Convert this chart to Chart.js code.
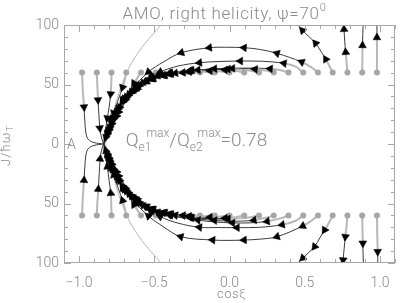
<!DOCTYPE html>
<html>
<head>
<meta charset="utf-8">
<script src="https://cdn.jsdelivr.net/npm/chart.js@4"></script>
<style>html,body{margin:0;padding:0;background:#fff}#c{display:block}</style>
</head>
<body>
<canvas id="c" width="407" height="303"></canvas>
<script>
// AMO flow diagram, right helicity, psi = 70 deg: trajectories in (cos xi, J) plane.

// ── data ────────────────────────────────────────────────────────────────────
const startX    = [-0.98, -0.882, -0.784, -0.686, -0.588, -0.49, -0.392, -0.294, -0.196, -0.098, 0,
                   0.098, 0.196, 0.294, 0.392, 0.49, 0.588, 0.686, 0.784, 0.882, 0.98];
const dotLevels = [60, -60];

const xTickValues = [-1, -0.5, 0, 0.5, 1];
const xTickLabels = ['\u22121.0', '\u22120.5', '0.0', '0.5', '1.0'];
const yTickValues = [-100, -50, 0, 50, 100];
const yTickLabels = ['100', '50', '0', '50', '100'];

const topPaths = [
  [[-0.98,60],[-0.975,45],[-0.967,31],[-0.962,20],[-0.955,10],[-0.94,4],[-0.9,1.2],[-0.836,0]],
  [[-0.882,60],[-0.878,48],[-0.874,37],[-0.868,25],[-0.862,13.4],[-0.85,5],[-0.836,0]],
  [[-0.784,60],[-0.786,51],[-0.79,42],[-0.8,31],[-0.812,21.8],[-0.826,10],[-0.836,0]],
  [[-0.686,60],[-0.698,53],[-0.711,47.5],[-0.74,37],[-0.77,26],[-0.8,14],[-0.822,5.5],[-0.836,0]],
  [[-0.588,60],[-0.61,56],[-0.635,51],[-0.67,44],[-0.71,36],[-0.75,27],[-0.785,17],[-0.812,8],[-0.836,0]],
  [[-0.49,60],[-0.52,57.5],[-0.56,53.5],[-0.6,49.5],[-0.645,44],[-0.69,38],[-0.735,30],[-0.77,21],[-0.8,12],[-0.836,0]],
  [[-0.392,60],[-0.43,59],[-0.48,57],[-0.53,54.5],[-0.58,51],[-0.625,46.5],[-0.67,41.5],[-0.71,35],[-0.75,27],[-0.785,18],[-0.812,9],[-0.836,0]],
  [[-0.294,60],[-0.33,60],[-0.38,59],[-0.44,57.5],[-0.5,55.5],[-0.56,52.5],[-0.61,48.5],[-0.655,43.5],[-0.7,37],[-0.74,29.5],[-0.775,20.5],[-0.805,11],[-0.836,0]],
  [[-0.196,60],[-0.25,60.3],[-0.31,60],[-0.37,59],[-0.43,57.5],[-0.49,55.5],[-0.55,52.5],[-0.6,48.5],[-0.645,44],[-0.69,38],[-0.73,31],[-0.765,23],[-0.795,14],[-0.82,6],[-0.836,0]],
  [[-0.098,60],[-0.15,60.5],[-0.21,61],[-0.27,60.8],[-0.33,60],[-0.39,58.8],[-0.45,57],[-0.51,54.5],[-0.565,51.5],[-0.615,47.5],[-0.66,42.5],[-0.7,37],[-0.74,30],[-0.775,21],[-0.805,12],[-0.836,0]],
  [[0,60],[-0.06,61],[-0.13,61.5],[-0.2,61.5],[-0.27,61],[-0.34,60],[-0.4,58.8],[-0.46,57],[-0.52,54.5],[-0.575,51],[-0.625,47],[-0.67,42],[-0.71,36],[-0.75,28.5],[-0.785,19.5],[-0.812,10],[-0.836,0]],
  [[0.098,60],[0.04,61.5],[-0.03,62.3],[-0.11,62.5],[-0.19,62.3],[-0.26,61.7],[-0.33,60.8],[-0.4,59.5],[-0.46,57.7],[-0.52,55.3],[-0.575,52],[-0.625,48],[-0.67,43],[-0.71,37],[-0.75,29],[-0.785,20],[-0.812,10.5],[-0.836,0]],
  [[0.196,60],[0.14,61.5],[0.07,62.5],[-0.01,63],[-0.09,63],[-0.17,62.6],[-0.25,62],[-0.32,61],[-0.39,59.7],[-0.45,58],[-0.51,55.8],[-0.565,52.7],[-0.615,48.7],[-0.66,44],[-0.7,38],[-0.74,30.5],[-0.775,21.5],[-0.805,11.5],[-0.836,0]],
  [[0.294,60],[0.25,61.5],[0.17,62.8],[0.08,63.5],[-0.01,63.6],[-0.1,63.2],[-0.19,62.4],[-0.28,61.2],[-0.36,59.5],[-0.44,57.5],[-0.51,54.8],[-0.57,51.4],[-0.625,47],[-0.67,41.8],[-0.71,35.6],[-0.75,28],[-0.785,19],[-0.812,9.5],[-0.836,0]],
  [[0.392,60],[0.34,62],[0.27,63.2],[0.15,63.8],[0.02,63.5],[-0.1,63],[-0.21,62.2],[-0.342,60.9],[-0.454,58],[-0.539,53.8],[-0.612,47],[-0.678,37.8],[-0.737,26.9],[-0.789,14.3],[-0.836,0]],
  [[0.49,60],[0.44,65],[0.362,67.8],[0.22,69.5],[0.072,69.7],[-0.07,69.3],[-0.2,68.3],[-0.342,65.5],[-0.461,60.5],[-0.553,53.8],[-0.625,45.4],[-0.691,35.3],[-0.75,23.5],[-0.796,11.8],[-0.836,0]],
  [[0.588,60],[0.55,64],[0.48,68.9],[0.316,76.2],[0.2,79.5],[0.097,80.9],[-0.02,81.3],[-0.134,80.9],[-0.32,76.7],[-0.44,68.9],[-0.539,60.5],[-0.618,50.4],[-0.684,39.5],[-0.737,28.6],[-0.783,16.8],[-0.816,6.7],[-0.836,0]],
  [[0.686,60],[0.662,66],[0.64,71.2],[0.607,78],[0.572,84.6],[0.53,90],[0.485,95.4],[0.455,100],[0.43,104]],
  [[0.784,60],[0.778,69],[0.772,77.1],[0.766,86.5],[0.761,96.4],[0.759,102]],
  [[0.882,60],[0.883,71],[0.884,82.8],[0.886,92],[0.888,102]],
  [[0.98,60],[0.98,75],[0.98,89.5],[0.98,102]]
];
const topArrows = [[2],[2,4],[2,4],[2,4,6],[2,4,6,7],[1,3,5,7,8],[2,4,6,8,10],[3,5,7,9,11],[2,4,6,8,10,12],
  [3,5,7,9,11,13],[2,4,6,8,10,12,14],[2,5,7,9,11,13,15],[3,6,8,10,12,14,16],[2,5,8,10,12,14,16],
  [2,4,6,8,10,12],[2,4,6,8,10,12],[2,3,5,7,8,10,12,14],[2,4,6],[2,4],[2],[2]];

const bottomPaths = [
  [[-0.98,-60],[-0.975,-45],[-0.967,-30.5],[-0.962,-20],[-0.955,-10],[-0.94,-4],[-0.9,-1.2],[-0.836,0]],
  [[-0.882,-60],[-0.878,-49],[-0.872,-38],[-0.866,-25],[-0.86,-12.6],[-0.85,-5],[-0.836,0]],
  [[-0.784,-60],[-0.786,-51],[-0.789,-41.4],[-0.8,-31],[-0.812,-19],[-0.826,-9],[-0.836,0]],
  [[-0.686,-60],[-0.698,-53],[-0.711,-47.5],[-0.74,-37],[-0.77,-26],[-0.8,-14],[-0.822,-5.5],[-0.836,0]],
  [[-0.588,-60],[-0.61,-56],[-0.635,-51],[-0.67,-44],[-0.71,-36],[-0.75,-27],[-0.785,-17],[-0.812,-8],[-0.836,0]],
  [[-0.49,-60],[-0.52,-57.5],[-0.56,-53.5],[-0.6,-49.5],[-0.645,-44],[-0.69,-38],[-0.735,-30],[-0.77,-21],[-0.8,-12],[-0.836,0]],
  [[-0.392,-60],[-0.43,-59],[-0.48,-57],[-0.53,-54.5],[-0.58,-51],[-0.625,-46.5],[-0.67,-41.5],[-0.71,-35],[-0.75,-27],[-0.785,-18],[-0.812,-9],[-0.836,0]],
  [[-0.294,-60],[-0.33,-60],[-0.38,-59],[-0.44,-57.5],[-0.5,-55.5],[-0.56,-52.5],[-0.61,-48.5],[-0.655,-43.5],[-0.7,-37],[-0.74,-29.5],[-0.775,-20.5],[-0.805,-11],[-0.836,0]],
  [[-0.196,-60],[-0.25,-60.3],[-0.31,-60],[-0.37,-59],[-0.43,-57.5],[-0.49,-55.5],[-0.55,-52.5],[-0.6,-48.5],[-0.645,-44],[-0.69,-38],[-0.73,-31],[-0.765,-23],[-0.795,-14],[-0.82,-6],[-0.836,0]],
  [[-0.098,-60],[-0.15,-60.5],[-0.21,-61],[-0.27,-60.8],[-0.33,-60],[-0.39,-58.8],[-0.45,-57],[-0.51,-54.5],[-0.565,-51.5],[-0.615,-47.5],[-0.66,-42.5],[-0.7,-37],[-0.74,-30],[-0.775,-21],[-0.805,-12],[-0.836,0]],
  [[0,-60],[-0.06,-61],[-0.13,-61.5],[-0.2,-61.5],[-0.27,-61],[-0.34,-60],[-0.4,-58.8],[-0.46,-57],[-0.52,-54.5],[-0.575,-51],[-0.625,-47],[-0.67,-42],[-0.71,-36],[-0.75,-28.5],[-0.785,-19.5],[-0.812,-10],[-0.836,0]],
  [[0.098,-60],[0.04,-61.5],[-0.03,-62.3],[-0.11,-62.5],[-0.19,-62.3],[-0.26,-61.7],[-0.33,-60.8],[-0.4,-59.5],[-0.46,-57.7],[-0.52,-55.3],[-0.575,-52],[-0.625,-48],[-0.67,-43],[-0.71,-37],[-0.75,-29],[-0.785,-20],[-0.812,-10.5],[-0.836,0]],
  [[0.196,-60],[0.14,-61.5],[0.07,-62.5],[-0.01,-63],[-0.09,-63],[-0.17,-62.6],[-0.25,-62],[-0.32,-61],[-0.39,-59.7],[-0.45,-58],[-0.51,-55.8],[-0.565,-52.7],[-0.615,-48.7],[-0.66,-44],[-0.7,-38],[-0.74,-30.5],[-0.775,-21.5],[-0.805,-11.5],[-0.836,0]],
  [[0.294,-60],[0.25,-61.8],[0.162,-64],[0.08,-64.8],[-0.01,-64.8],[-0.1,-64.2],[-0.19,-63.2],[-0.28,-61.8],[-0.36,-59.8],[-0.44,-57.6],[-0.51,-54.8],[-0.57,-51.4],[-0.625,-47],[-0.67,-41.8],[-0.71,-35.6],[-0.75,-28],[-0.785,-19],[-0.812,-9.5],[-0.836,0]],
  [[0.392,-60],[0.34,-62.5],[0.25,-65],[0.13,-66.3],[0.02,-66.3],[-0.1,-65.5],[-0.21,-64],[-0.342,-61.5],[-0.454,-58],[-0.539,-53.8],[-0.612,-47],[-0.678,-37.8],[-0.737,-26.9],[-0.789,-14.3],[-0.836,0]],
  [[0.49,-60],[0.44,-64.5],[0.35,-67.8],[0.2,-70],[0.05,-70.3],[-0.07,-70.2],[-0.2,-70],[-0.342,-66.5],[-0.461,-61],[-0.553,-53.8],[-0.625,-45.4],[-0.691,-35.3],[-0.75,-23.5],[-0.796,-11.8],[-0.836,0]],
  [[0.588,-60],[0.55,-64],[0.487,-68.9],[0.316,-77.9],[0.2,-80],[0.097,-80.7],[-0.01,-81],[-0.112,-80.7],[-0.324,-77.9],[-0.44,-69.5],[-0.539,-60.5],[-0.618,-50.4],[-0.684,-39.5],[-0.737,-28.6],[-0.783,-16.8],[-0.816,-6.7],[-0.836,0]],
  [[0.686,-60],[0.662,-66],[0.632,-72.3],[0.6,-79],[0.566,-86.3],[0.528,-91],[0.487,-95.8],[0.455,-100],[0.43,-104]],
  [[0.784,-60],[0.778,-69],[0.77,-77.9],[0.762,-88],[0.755,-97.5],[0.753,-102]],
  [[0.882,-60],[0.884,-72],[0.886,-83.4],[0.888,-93],[0.89,-102]],
  [[0.98,-60],[0.982,-75],[0.985,-90.5],[0.986,-102]]
];
const bottomArrows = [[2],[2,4],[2,4],[2,4,6],[2,4,6,7],[1,3,5,7,8],[2,4,6,8,10],[3,5,7,9,11],[2,4,6,8,10,12],
  [3,5,7,9,11,13],[2,4,6,8,10,12,14],[2,5,7,9,11,13,15],[3,6,8,10,12,14,16],[2,5,8,10,12,14,16],
  [2,4,6,8,10,12],[2,4,6,8,10,12],[2,3,5,7,8,10,12,14],[2,4,6],[2,4],[2],[2]];

// grey boundary curves entering the attractor from the top and bottom edges
const topBoundary    = [[-0.43,104],[-0.454,100],[-0.559,84.9],[-0.651,68.1],[-0.704,53.8],[-0.75,37],[-0.789,17.6],[-0.822,0.8],[-0.836,0]];
const bottomBoundary = [[-0.43,-104],[-0.454,-100],[-0.559,-84.9],[-0.651,-68.1],[-0.704,-53.8],[-0.75,-37],[-0.789,-17.6],[-0.822,-0.8],[-0.836,0]];

// ── style ───────────────────────────────────────────────────────────────────
const FONT       = 'Roboto, "DejaVu Sans", sans-serif';
const AXIS_COLOR = '#a8a8a8';
const TEXT_COLOR = '#8a8a8a';
const DOT_COLOR  = '#a6a6a6';
const LINE_DARK  = '#3a3a3a';
const LINE_LIGHT = '#b8b8b8';

function _near(a, b) { return Math.abs(a - b) < 1e-6; }

function _lookup(values, labels, v) {
  const i = values.findIndex(t => _near(t, v));
  return i < 0 ? '' : labels[i];
}

function _pathDatasets(paths, arrows) {
  return paths.map((p, k) => {
    const first = arrows[k].length ? arrows[k][0] : p.length;
    return {
      type: 'scatter', showLine: true, order: 3,
      data: p.map(pt => ({ x: pt[0], y: pt[1] })),
      pointRadius: 0, pointHoverRadius: 0,
      tension: 0.35,
      borderColor: LINE_DARK, borderWidth: 1,
      segment: {
        borderColor: s => s.p1DataIndex <= first ? LINE_LIGHT : LINE_DARK,
        borderWidth: s => s.p1DataIndex <= first ? 2 : 1
      }
    };
  });
}

function _arrowData(paths, arrows) {
  const out = [];
  paths.forEach((p, k) => arrows[k].forEach(i => {
    out.push({ x: p[i][0], y: p[i][1], prev: p[Math.max(i - 1, 0)], next: p[Math.min(i + 1, p.length - 1)] });
  }));
  return out;
}

function _arrowAngle(ctx) {
  const r = ctx.raw;
  if (!r || !r.prev) return 0;
  const sx = ctx.chart.scales.x, sy = ctx.chart.scales.y;
  const dx = sx.getPixelForValue(r.next[0]) - sx.getPixelForValue(r.prev[0]);
  const dy = sy.getPixelForValue(r.next[1]) - sy.getPixelForValue(r.prev[1]);
  return Math.atan2(dx, -dy) * 180 / Math.PI;
}

function _boundaryDataset(p) {
  return {
    type: 'scatter', showLine: true, order: 4,
    data: p.map(pt => ({ x: pt[0], y: pt[1] })),
    pointRadius: 0, tension: 0.35,
    borderColor: LINE_LIGHT, borderWidth: 1
  };
}

// draws a run of text pieces with sub/superscripts
function _drawParts(ctx, x, y, parts) {
  parts.forEach(p => {
    ctx.font = '300 ' + p.size + 'px ' + FONT;
    x -= p.back || 0;
    ctx.fillText(p.t, x, y + (p.dy || 0));
    x += ctx.measureText(p.t).width;
  });
  return x;
}

function _partsWidth(ctx, parts) {
  let w = 0;
  parts.forEach(p => { ctx.font = '300 ' + p.size + 'px ' + FONT; w += ctx.measureText(p.t).width - (p.back || 0); });
  return w;
}

// ── frame, inward ticks and free text ──────────────────────────────────────
const framePlugin = {
  id: 'frame',
  afterDraw(chart) {
    const { ctx, chartArea: a, scales } = chart;
    const sx = scales.x, sy = scales.y;
    ctx.save();
    ctx.strokeStyle = AXIS_COLOR;
    ctx.lineWidth = 1;
    ctx.strokeRect(a.left + 0.5, a.top + 0.5, a.right - a.left - 1, a.bottom - a.top - 1);

    ctx.beginPath();
    sy.ticks.forEach(t => {
      const py = Math.round(sy.getPixelForValue(t.value)) + 0.5;
      const len = t.label ? 7 : 4;
      ctx.moveTo(a.left, py);  ctx.lineTo(a.left + len, py);
      ctx.moveTo(a.right, py); ctx.lineTo(a.right - len, py);
    });
    sx.ticks.forEach(t => {
      const px = Math.round(sx.getPixelForValue(t.value)) + 0.5;
      const len = t.label ? 7 : 4;
      ctx.moveTo(px, a.top);    ctx.lineTo(px, a.top + len);
      ctx.moveTo(px, a.bottom); ctx.lineTo(px, a.bottom - len);
    });
    ctx.stroke();

    ctx.fillStyle = TEXT_COLOR;
    ctx.textBaseline = 'alphabetic';
    ctx.textAlign = 'left';

    // title
    ctx.letterSpacing = '0.7px';
    const title = [{ t: 'AMO, right helicity, \u03c8=70', size: 17 }, { t: '0', size: 11, dy: -8 }];
    const tw = _partsWidth(ctx, title);
    _drawParts(ctx, (a.left + a.right) / 2 - 5 - tw / 2, 19, title);

    // ratio annotation
    const y0 = sy.getPixelForValue(0);
    ctx.letterSpacing = '0px';
    _drawParts(ctx, sx.getPixelForValue(-0.69), y0 + 1.5, [
      { t: 'Q', size: 19 }, { t: 'e1', size: 12, dy: 5 }, { t: 'max', size: 12, dy: -9, back: 5 },
      { t: '/Q', size: 19 }, { t: 'e2', size: 12, dy: 5 }, { t: 'max', size: 12, dy: -9, back: 5 },
      { t: '=0.78', size: 19 }
    ]);

    // attractor label
    _drawParts(ctx, sx.getPixelForValue(-1.08), y0 + 4.5, [{ t: 'A', size: 14 }]);

    // x axis title
    ctx.letterSpacing = '0.5px';
    const xt = [{ t: 'cos\u03be', size: 13 }];
    _drawParts(ctx, sx.getPixelForValue(0) + 2 - _partsWidth(ctx, xt) / 2, 298, xt);

    // y axis title, rotated
    ctx.translate(10, y0 + 22);
    ctx.rotate(-Math.PI / 2);
    ctx.letterSpacing = '1px';
    _drawParts(ctx, 0, 0, [{ t: 'J/\u0127\u03c9', size: 13 }, { t: 'T', size: 9, dy: 3 }]);
    ctx.restore();
  }
};

// ── chart ───────────────────────────────────────────────────────────────────
const datasets = []
  .concat(_pathDatasets(topPaths, topArrows))
  .concat(_pathDatasets(bottomPaths, bottomArrows))
  .concat([_boundaryDataset(topBoundary), _boundaryDataset(bottomBoundary)])
  .concat([{
    type: 'scatter', order: 2,
    data: startX.map(x => ({ x: x, y: dotLevels[0] })).concat(startX.map(x => ({ x: x, y: dotLevels[1] }))),
    pointStyle: 'circle', pointRadius: 3, pointBackgroundColor: DOT_COLOR, pointBorderWidth: 0
  }, {
    type: 'scatter', order: 1,
    data: _arrowData(topPaths, topArrows).concat(_arrowData(bottomPaths, bottomArrows)),
    pointStyle: 'triangle', pointRadius: 4.5, pointRotation: _arrowAngle,
    pointBackgroundColor: '#000', pointBorderColor: '#000', pointBorderWidth: 0.5
  }]);

Chart.defaults.font.family = FONT;

new Chart(document.getElementById('c'), {
  type: 'scatter',
  data: { datasets: datasets },
  options: {
    responsive: false,
    animation: false,
    devicePixelRatio: 1,
    events: [],
    layout: { padding: { top: 25, right: 8, left: 0, bottom: 0 } },
    plugins: { legend: { display: false }, tooltip: { enabled: false }, title: { display: false } },
    scales: {
      x: {
        type: 'linear', min: -1.1, max: 1.1,
        grid: { display: false, drawTicks: false },
        border: { display: false },
        ticks: {
          stepSize: 0.1, autoSkip: false, maxRotation: 0, padding: 12,
          color: TEXT_COLOR, font: { size: 14, weight: '300' },
          callback: v => _lookup(xTickValues, xTickLabels, v)
        },
        afterFit: s => { s.height = 40; }
      },
      y: {
        type: 'linear', min: -100, max: 100,
        grid: { display: false, drawTicks: false },
        border: { display: false },
        ticks: {
          stepSize: 10, autoSkip: false, padding: 5,
          color: TEXT_COLOR, font: { size: 14, weight: '300' },
          callback: v => _lookup(yTickValues, yTickLabels, v)
        },
        afterFit: s => { s.width = 64; }
      }
    }
  },
  plugins: [framePlugin]
});
</script>
</body>
</html>
